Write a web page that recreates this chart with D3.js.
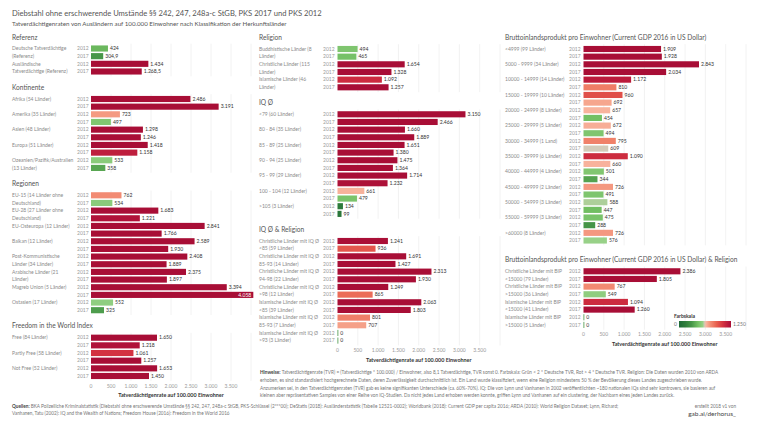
<!DOCTYPE html>
<html><head><meta charset="utf-8">
<script src="https://cdn.jsdelivr.net/npm/d3@7"></script>
<style>
html,body{margin:0;padding:0;background:#fff;}
svg{display:block;font-family:Lato,"Open Sans",sans-serif;}
</style></head>
<body><svg id="c" width="768" height="432"></svg>
<script>
// ---------- DATA ----------
const years = ["2012", "2017"];
const tickValues = [0, 500, 1000, 1500, 2000, 2500, 3000, 3500];

const referenzCats = ["Deutsche Tatverdächtige\n(Referenz)", "Ausländische\nTatverdächtige (Referenz)"];
const referenz2012 = [424, 1434];
const referenz2017 = [304.9, 1268.5];

const kontinenteCats = ["Afrika (54 Länder)", "Amerika (35 Länder)", "Asien (48 Länder)", "Europa (51 Länder)", "Ozeanien/Pazifik/Australien\n(13 Länder)"];
const kontinente2012 = [2486, 723, 1298, 1418, 533];
const kontinente2017 = [3191, 497, 1246, 1158, 358];

const regionenCats = ["EU-15 (14 Länder ohne\nDeutschland)", "EU-28 (27 Länder ohne\nDeutschland)", "EU-Osteuropa (12 Länder)", "Balkan (12 Länder)", "Post-Kommunistische\nLänder (34 Länder)", "Arabische Länder (21\nLänder)", "Magreb Union (5 Länder)", "Ostasien (17 Länder)"];
const regionen2012 = [762, 1683, 2841, 2589, 2408, 2375, 3394, 552];
const regionen2017 = [534, 1221, 1766, 1930, 1889, 1897, 4058, 325];

const freedomCats = ["Free (84 Länder)", "Partly Free (58 Länder)", "Not Free (52 Länder)"];
const freedom2012 = [1650, 1061, 1653];
const freedom2017 = [1218, 1257, 1450];

const religionCats = ["Buddhistische Länder (8\nLänder)", "Christliche Länder (115\nLänder)", "Islamische Länder (46\nLänder)"];
const religion2012 = [494, 1654, 1092];
const religion2017 = [465, 1328, 1257];

const iqCats = ["<79 (60 Länder)", "80 - 84 (35 Länder)", "85 - 89 (25 Länder)", "90 - 94 (25 Länder)", "95 - 99 (29 Länder)", "100 - 104 (12 Länder)", ">105 (3 Länder)"];
const iq2012 = [3150, 1660, 1651, 1475, 1714, 661, 134];
const iq2017 = [2466, 1889, 1380, 1364, 1232, 479, 99];

const iqRelCats = ["Christliche Länder mit IQ Ø\n<85 (59 Länder)", "Christliche Länder mit IQ Ø\n85-93 (14 Länder)", "Christliche Länder mit IQ Ø\n94-98 (22 Länder)", "Christliche Länder mit IQ Ø\n>98 (12 Länder)", "Islamische Länder mit IQ Ø\n<85 (39 Länder)", "Islamische Länder mit IQ Ø\n85-93 (7 Länder)", "Islamische Länder mit IQ Ø\n>93 (3 Länder)"];
const iqRel2012 = [1241, 1691, 2313, 1249, 2063, 801, 0];
const iqRel2017 = [936, 1427, 1930, 865, 1803, 707, 0];

const gdpCats = ["<4999 (99 Länder)", "5000 - 9999 (34 Länder)", "10000 - 14999 (14 Länder)", "15000 - 19999 (10 Länder)", "20000 - 24999 (8 Länder)", "25000 - 29999 (5 Länder)", "30000 - 34999 (1 Land)", "35000 - 39999 (6 Länder)", "40000 - 44999 (4 Länder)", "45000 - 49999 (2 Länder)", "50000 - 54999 (3 Länder)", "55000 - 59999 (3 Länder)", ">60000 (8 Länder)"];
const gdp2012 = [1909, 2843, 1172, 960, 657, 672, 795, 1090, 501, 726, 588, 475, 726];
const gdp2017 = [1928, 2034, 810, 692, 454, 494, 609, 660, 344, 491, 447, 288, 576];

const gdpRelCats = ["Christliche Länder mit BIP\n<15000 (79 Länder)", "Christliche Länder mit BIP\n>15000 (36 Länder)", "Islamische Länder mit BIP\n<15000 (41 Länder)", "Islamische Länder mit BIP\n>15000 (5 Länder)"];
const gdpRel2012 = [2386, 767, 1094, 0];
const gdpRel2017 = [1805, 549, 1260, 0];

const colorStops = [0, 150, 300, 450, 575, 610, 650, 750, 900, 1050, 1200, 1250];
const colorRange = ["#1f6a36", "#2f7d3c", "#479648", "#72bf63", "#96d186", "#d5cbbc", "#f8b6a0", "#f38f76", "#e8614f", "#d53441", "#b5153b", "#a80e36"];

const titleText = "Diebstahl ohne erschwerende Umstände §§ 242, 247, 248a-c StGB, PKS 2017 und PKS 2012";
const subtitleText = "Tatverdächtigenraten von Ausländern auf 100.000 Einwohner nach Klassifikation der Herkunftsländer";
const axisTitle = "Tatverdächtigenrate auf 100.000 Einwohner";
const notes = [
  "Tatverdächtigenrate (TVR) = (Tatverdächtige * 100.000) / Einwohner, also 8,1 Tatverdächtige, TVR sonst 0. Farbskala: Grün < 2 * Deutsche TVR, Rot > 4 * Deutsche TVR. Religion: Die Daten wurden 2010 von ARDA",
  "erhoben, es sind standardisiert hochgerechnete Daten, deren Zuverlässigkeit durchschnittlich ist. Ein Land wurde klassifiziert, wenn eine Religion mindestens 50 % der Bevölkerung dieses Landes zugeschrieben wurde.",
  "Anzumerken sei, in den Tatverdächtigenraten (TVR) gab es keine signifikanten Unterschiede (ca. 60%-70%). IQ: Die von Lynn und Vanhanen in 2002 veröffentlichten ~180 nationalen IQs sind sehr kontrovers, sie basieren auf",
  "kleinen aber repräsentativen Samples von einer Reihe von IQ-Studien. Da nicht jedes Land erhoben werden konnte, griffen Lynn und Vanhanen auf ein clustering, der Nachbarn eines jeden Landes zurück."
];
const sources = [
  "BKA Polizeiliche Kriminalstatistik (Diebstahl ohne erschwerende Umstände §§ 242, 247, 248a-c StGB, PKS-Schlüssel (2***00); DeStatis (2018): Ausländerstatistik (Tabelle 12521-0002); Worldbank (2018): Current GDP per capita 2016; ARDA (2010): World Religion Dataset; Lynn, Richard;",
  "Vanhanen, Tatu (2002): IQ and the Wealth of Nations; Freedom House (2016): Freedom in the World 2016"
];

// ---------- SETUP ----------
const svg = d3.select("#c");
const loc = d3.formatLocale({decimal: ",", thousands: ".", grouping: [3], currency: ["", ""]});
const fInt = loc.format(",.0f"), f1 = loc.format(",.1f");
const fmt = v => Number.isInteger(v) ? fInt(v) : f1(v);
const color = d3.scaleLinear().domain(colorStops).range(colorRange).clamp(true);
const STEP = 7.66;

svg.append("text").attr("x", 12).attr("y", 16).attr("font-size", 7.6).attr("fill", "#555").text(titleText);
svg.append("text").attr("x", 12).attr("y", 25.5).attr("font-size", 6.2).attr("fill", "#555").text(subtitleText);

const cols = [
  {labelX: 12, yearX: 77, x: d3.scaleLinear().domain([0, 4000]).range([91, 251]), axisY: 386,
   panels: [
     {title: "Referenz", hy: 37.5, fy: 48.5, cats: referenzCats, a: referenz2012, b: referenz2017},
     {title: "Kontinente", hy: 88, fy: 99, cats: kontinenteCats, a: kontinente2012, b: kontinente2017},
     {title: "Regionen", hy: 184, fy: 195.3, cats: regionenCats, a: regionen2012, b: regionen2017},
     {title: "Freedom in the World Index", hy: 326, fy: 337.7, cats: freedomCats, a: freedom2012, b: freedom2017}
   ]},
  {labelX: 259, yearX: 323, x: d3.scaleLinear().domain([0, 4000]).range([337.5, 500]), axisY: 350.7,
   panels: [
     {title: "Religion", hy: 37.5, fy: 49, cats: religionCats, a: religion2012, b: religion2017},
     {title: "IQ Ø", hy: 102.7, fy: 114.3, cats: iqCats, a: iq2012, b: iq2017},
     {title: "IQ Ø & Religion", hy: 229.7, fy: 241, cats: iqRelCats, a: iqRel2012, b: iqRel2017}
   ]},
  {labelX: 505, yearX: 569, x: d3.scaleLinear().domain([0, 4000]).range([583.5, 746]), axisY: 334.7,
   panels: [
     {title: "Bruttoinlandsprodukt pro Einwohner (Current GDP 2016 in US Dollar)", hy: 37.7, fy: 49, cats: gdpCats, a: gdp2012, b: gdp2017},
     {title: "Bruttoinlandsprodukt pro Einwohner (Current GDP 2016 in US Dollar) & Religion", hy: 260, fy: 271.3, cats: gdpRelCats, a: gdpRel2012, b: gdpRel2017}
   ]}
];

cols.forEach(col => {
  const g = svg.append("g");
  const x = col.x;
  col.panels.forEach(p => {
    const rows = [];
    p.cats.forEach((c, i) => {
      rows.push({cat: c, year: years[0], v: p.a[i], first: true, i});
      rows.push({cat: c, year: years[1], v: p.b[i], first: false, i});
    });
    const y = d3.scaleBand().domain(rows.map((r, k) => k))
      .range([p.fy - STEP / 2, p.fy - STEP / 2 + rows.length * STEP]).paddingInner(0.2).paddingOuter(0.1);
    // header
    g.append("text").attr("x", col.labelX).attr("y", p.hy).attr("dy", "0.35em")
      .attr("font-size", 6.6).attr("fill", "#555").text(p.title);
    // grid
    const [r0, r1] = y.range();
    g.append("g").selectAll("line").data(tickValues.slice(1).concat([4000])).join("line")
      .attr("x1", d => x(d)).attr("x2", d => x(d)).attr("y1", r0 - 1).attr("y2", r1 + 1)
      .attr("stroke", "#efefef").attr("stroke-width", 0.8);
    // labels
    rows.forEach((r, k) => {
      const cy = y(k) + y.bandwidth() / 2;
      const lines = r.cat.split("\n");
      const line = r.first ? lines[0] : lines[1];
      if (line) g.append("text").attr("x", col.labelX).attr("y", cy).attr("dy", "0.35em")
        .attr("font-size", 5).attr("fill", "#8a8a8a").text(line);
      g.append("text").attr("x", col.yearX).attr("y", cy).attr("dy", "0.35em")
        .attr("font-size", 5).attr("fill", "#999").text(r.year);
    });
    // bars
    g.append("g").selectAll("rect").data(rows).join("rect")
      .attr("x", x(0)).attr("y", (d, k) => y(k)).attr("height", y.bandwidth())
      .attr("width", d => Math.max(0.8, x(d.v) - x(0)))
      .attr("fill", d => d.v === 0 ? "#479648" : color(d.v));
    // values
    g.append("g").selectAll("text").data(rows).join("text")
      .each(function (d, k) {
        const cy = y(k) + y.bandwidth() / 2;
        const end = x(d.v);
        const inside = end > x.range()[1] - 12;
        d3.select(this).attr("x", inside ? end - 2 : Math.max(end, x(0) + 0.8) + 2)
          .attr("y", cy).attr("dy", "0.35em")
          .attr("text-anchor", inside ? "end" : "start")
          .attr("fill", inside ? "#fff" : "#333")
          .attr("font-size", 5.1).text(fmt(d.v));
      });
  });
  // axis
  g.append("g").selectAll("text").data(tickValues).join("text")
    .attr("x", d => x(d)).attr("y", col.axisY).attr("dy", "0.35em").attr("text-anchor", "middle")
    .attr("font-size", 5).attr("fill", "#999").text(d => fInt(d));
  g.append("text").attr("x", (x.range()[0] + x.range()[1]) / 2).attr("y", col.axisY + 9.5).attr("dy", "0.35em")
    .attr("text-anchor", "middle").attr("font-size", 5.4).attr("font-weight", 700).attr("fill", "#333").text(axisTitle);
});

// legend
const lg = svg.append("g");
const defs = svg.append("defs");
const grad = defs.append("linearGradient").attr("id", "lgGrad");
d3.range(0, 1.0001, 0.02).forEach(t => grad.append("stop").attr("offset", t).attr("stop-color", color(t * 1250)));
lg.append("text").attr("x", 674).attr("y", 316).attr("dy", "0.35em").attr("font-size", 5).attr("font-weight", 700).attr("fill", "#333").text("Farbskala");
lg.append("rect").attr("x", 679).attr("y", 321).attr("width", 52).attr("height", 6.5).attr("fill", "url(#lgGrad)");
lg.append("text").attr("x", 677).attr("y", 324.3).attr("dy", "0.35em").attr("text-anchor", "end").attr("font-size", 5).attr("fill", "#777").text("0");
lg.append("text").attr("x", 733).attr("y", 324.3).attr("dy", "0.35em").attr("font-size", 5).attr("fill", "#777").text(fInt(1250));

// notes
notes.forEach((t, i) => {
  const tx = svg.append("text").attr("x", 260).attr("y", 372.3 + i * 7.8).attr("dy", "0.35em")
    .attr("font-size", 4.7).attr("fill", "#777");
  if (i === 0) tx.append("tspan").attr("font-weight", 700).attr("fill", "#444").text("Hinweise: ");
  tx.append("tspan").text(t);
});
// sources
sources.forEach((t, i) => {
  const tx = svg.append("text").attr("x", 12).attr("y", 406 + i * 7.7).attr("dy", "0.35em")
    .attr("font-size", 4.7).attr("fill", "#777");
  if (i === 0) tx.append("tspan").attr("font-weight", 700).attr("fill", "#444").text("Quellen: ");
  tx.append("tspan").text(t);
});
svg.append("text").attr("x", 736).attr("y", 406).attr("dy", "0.35em").attr("text-anchor", "end")
  .attr("font-size", 4.7).attr("fill", "#777").text("erstellt 2018 v1 von");
svg.append("text").attr("x", 736).attr("y", 413.5).attr("dy", "0.35em").attr("text-anchor", "end")
  .attr("font-size", 6.5).attr("fill", "#444").text("gab.ai/derhorus_");
</script></body></html>
